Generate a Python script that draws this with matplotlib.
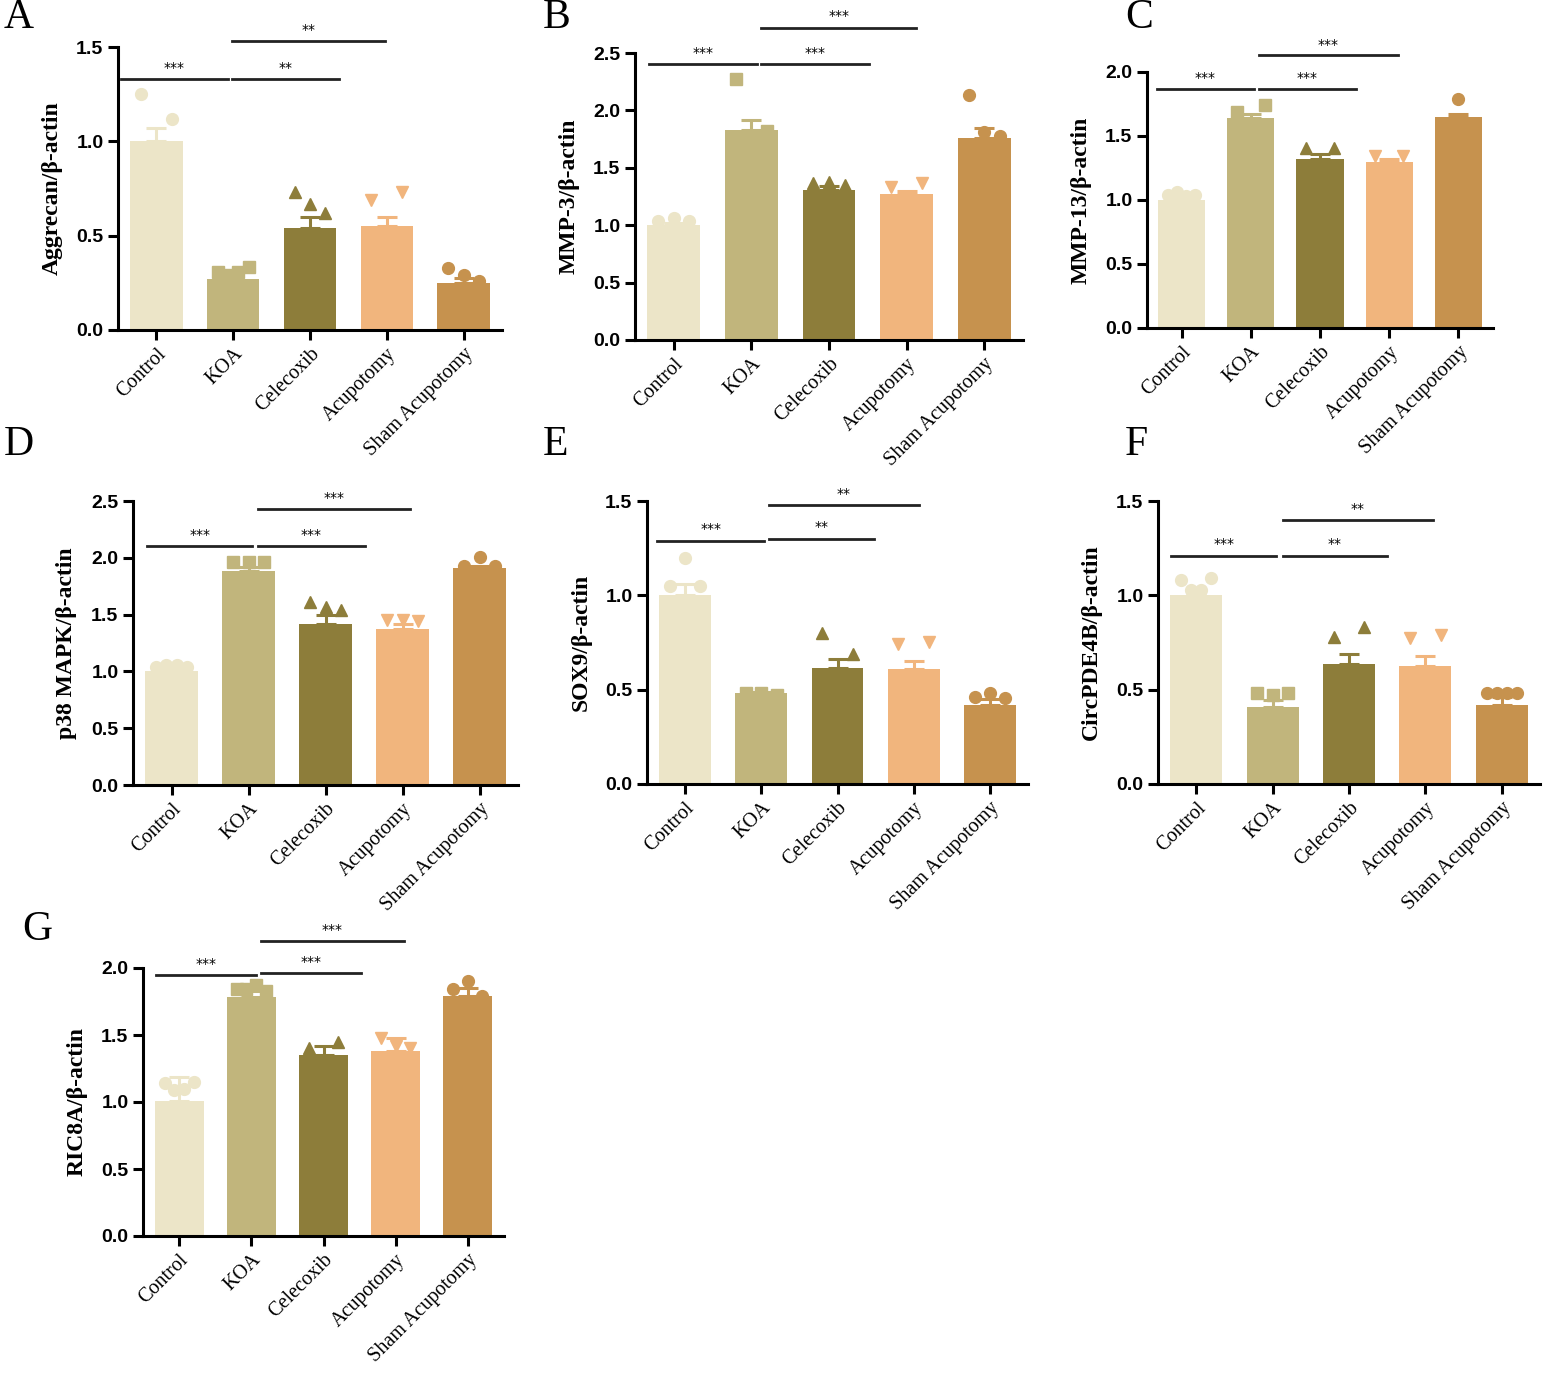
import matplotlib
matplotlib.use("Agg")
import matplotlib.pyplot as plt

groups = ["Control", "KOA", "Celecoxib", "Acupotomy", "Sham Acupotomy"]
colors = ["#ECE5C8", "#C1B57C", "#8D7D3A", "#F1B57D", "#C6924E"]
markers = ["o", "s", "^", "v", "o"]

# panel A: Aggrecan
aggrecan_mean = [1.00, 0.27, 0.54, 0.55, 0.25]
aggrecan_err = [0.07, 0.03, 0.06, 0.05, 0.025]
aggrecan_pts = [[1.25, 1.12], [0.31, 0.29, 0.31, 0.335], [0.73, 0.67, 0.62], [0.69, 0.73], [0.33, 0.29, 0.26]]

# panel B: MMP-3
mmp3_mean = [1.00, 1.83, 1.31, 1.27, 1.76]
mmp3_err = [0.02, 0.09, 0.03, 0.03, 0.09]
mmp3_pts = [[1.04, 1.06, 1.04], [2.27, 1.82], [1.37, 1.38, 1.35], [1.33, 1.37], [2.13, 1.81, 1.78]]

# panel C: MMP-13
mmp13_mean = [1.00, 1.64, 1.32, 1.30, 1.65]
mmp13_err = [0.02, 0.03, 0.04, 0.02, 0.02]
mmp13_pts = [[1.04, 1.06, 1.03, 1.04], [1.69, 1.74], [1.41, 1.41], [1.34, 1.34], [1.79]]

# panel D: p38 MAPK
p38_mean = [1.00, 1.88, 1.42, 1.37, 1.91]
p38_err = [0.02, 0.04, 0.08, 0.05, 0.02]
p38_pts = [[1.04, 1.06, 1.06, 1.04], [1.96, 1.96, 1.96], [1.61, 1.57, 1.54], [1.45, 1.45, 1.44], [1.93, 2.01, 1.93]]

# panel E: SOX9
sox9_mean = [1.00, 0.48, 0.615, 0.61, 0.42]
sox9_err = [0.06, 0.005, 0.05, 0.04, 0.03]
sox9_pts = [[1.05, 1.20, 1.05], [0.48, 0.48, 0.47], [0.80, 0.69], [0.74, 0.755], [0.46, 0.48, 0.455]]

# panel F: CircPDE4B
circ_mean = [1.00, 0.41, 0.635, 0.625, 0.42]
circ_err = [0.02, 0.035, 0.055, 0.055, 0.04]
circ_pts = [[1.08, 1.03, 1.03, 1.09], [0.48, 0.47, 0.48], [0.78, 0.83], [0.775, 0.79], [0.48, 0.48, 0.48, 0.48]]

# panel G: RIC8A
ric8a_mean = [1.01, 1.78, 1.35, 1.38, 1.79]
ric8a_err = [0.18, 0.05, 0.07, 0.10, 0.06]
ric8a_pts = [[1.14, 1.09, 1.10, 1.15], [1.84, 1.84, 1.87, 1.83], [1.40, 1.45], [1.48, 1.42, 1.40], [1.84, 1.90, 1.79]]

# brackets: (x0, x1, y, label)
aggrecan_sig = [(-0.46, 0.93, 1.33, "***"), (0.99, 2.38, 1.33, "**"), (0.99, 2.98, 1.53, "**")]
mmp3_sig = [(-0.32, 1.07, 2.40, "***"), (1.13, 2.52, 2.40, "***"), (1.13, 3.12, 2.72, "***")]
mmp13_sig = [(-0.35, 1.04, 1.87, "***"), (1.12, 2.52, 1.87, "***"), (1.12, 3.12, 2.13, "***")]
p38_sig = [(-0.32, 1.05, 2.10, "***"), (1.12, 2.51, 2.10, "***"), (1.12, 3.10, 2.43, "***")]
sox9_sig = [(-0.37, 1.04, 1.29, "***"), (1.10, 2.48, 1.30, "**"), (1.10, 3.07, 1.48, "**")]
circ_sig = [(-0.33, 1.05, 1.21, "***"), (1.13, 2.50, 1.21, "**"), (1.13, 3.10, 1.40, "**")]
ric8a_sig = [(-0.32, 1.07, 1.95, "***"), (1.14, 2.52, 1.96, "***"), (1.14, 3.11, 2.20, "***")]

W, H = 1544, 1374
fig = plt.figure(figsize=(W / 100, H / 100), dpi=100)


def add_ax(left, right, top, bottom):
    return fig.add_axes([left / W, 1 - bottom / H, (right - left) / W, (bottom - top) / H])


def draw_panel(ax, means, errs, pts, sigs, ymax, ylabel, letter, lpos):
    x = range(len(groups))
    ax.bar(x, means, width=0.68, color=colors, zorder=2)
    for i in x:
        ax.errorbar(i, means[i], yerr=[[0], [errs[i]]], color=colors[i], capsize=7,
                    elinewidth=2.2, capthick=2.2, zorder=3)
        n = len(pts[i])
        offs = [(-0.2 + 0.4 * k / (n - 1)) if n > 1 else 0 for k in range(n)]
        ax.plot([i + o for o in offs], pts[i], linestyle="none", marker=markers[i],
                color=colors[i], markersize=8.5, zorder=4, clip_on=False)
    for x0, x1, y, lab in sigs:
        ax.plot([x0, x1], [y, y], color="#222222", lw=2.0, clip_on=False, zorder=5)
        ax.text((x0 + x1) / 2, y + ymax * 0.015, lab, ha="center", va="bottom",
                fontsize=10, family="DejaVu Sans", clip_on=False)
    ax.set_xlim(-0.5, 4.5)
    ax.set_ylim(0, ymax)
    ax.set_yticks([v * 0.5 for v in range(int(ymax / 0.5) + 1)])
    ax.set_yticklabels([f"{v * 0.5:.1f}" for v in range(int(ymax / 0.5) + 1)],
                       fontsize=14, fontweight="bold", family="Liberation Sans")
    ax.set_xticks(list(x))
    ax.set_xticklabels(groups, rotation=45, ha="right", rotation_mode="anchor",
                       fontsize=14.5, family="Liberation Serif")
    ax.set_ylabel(ylabel, fontsize=17, fontweight="bold", family="Liberation Serif",
                  labelpad=10)
    for s in ["top", "right"]:
        ax.spines[s].set_visible(False)
    for s in ["left", "bottom"]:
        ax.spines[s].set_linewidth(2.2)
    ax.tick_params(axis="both", width=2.2, length=7)
    fig.text(lpos[0] / W, 1 - lpos[1] / H, letter, fontsize=30, family="Liberation Serif",
             ha="left", va="center")


axA = add_ax(118, 502, 47, 330)
draw_panel(axA, aggrecan_mean, aggrecan_err, aggrecan_pts, aggrecan_sig, 1.5,
           "Aggrecan/β-actin", "A", (4, 18))
axB = add_ax(635, 1023, 53, 340)
draw_panel(axB, mmp3_mean, mmp3_err, mmp3_pts, mmp3_sig, 2.5,
           "MMP-3/β-actin", "B", (543, 18))
axC = add_ax(1147, 1493, 72, 328)
draw_panel(axC, mmp13_mean, mmp13_err, mmp13_pts, mmp13_sig, 2.0,
           "MMP-13/β-actin", "C", (1125, 18))
axD = add_ax(133, 518, 501, 785)
draw_panel(axD, p38_mean, p38_err, p38_pts, p38_sig, 2.5,
           "p38 MAPK/β-actin", "D", (4, 445))
axE = add_ax(647, 1028, 501, 784)
draw_panel(axE, sox9_mean, sox9_err, sox9_pts, sox9_sig, 1.5,
           "SOX9/β-actin", "E", (543, 445))
axF = add_ax(1158, 1540, 501, 784)
draw_panel(axF, circ_mean, circ_err, circ_pts, circ_sig, 1.5,
           "CircPDE4B/β-actin", "F", (1125, 445))
axG = add_ax(143, 504, 968, 1236)
draw_panel(axG, ric8a_mean, ric8a_err, ric8a_pts, ric8a_sig, 2.0,
           "RIC8A/β-actin", "G", (22, 930))

fig.savefig("out.png", dpi=100)
